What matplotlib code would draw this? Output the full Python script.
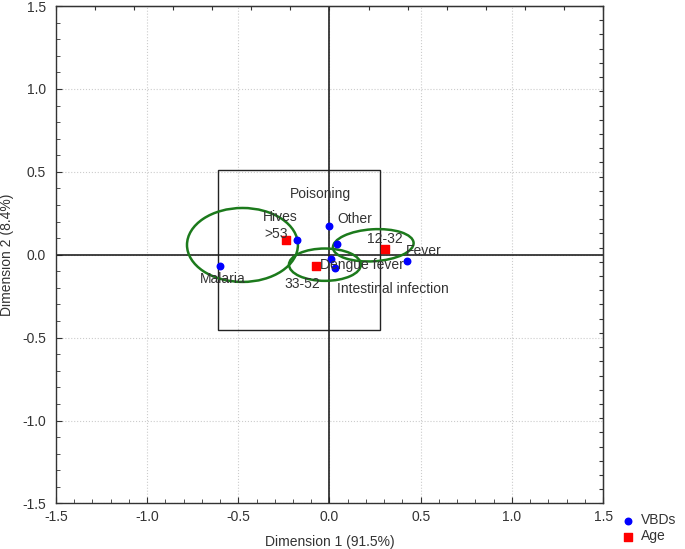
import numpy as np
import matplotlib
matplotlib.use("Agg")
import matplotlib.pyplot as plt
from matplotlib.patches import Ellipse, Rectangle
from matplotlib.ticker import MultipleLocator, FixedLocator

plt.rcParams['font.family'] = ['Liberation Sans', 'DejaVu Sans']

# VBDs (blue points)
vbd_names = ["Malaria", "Hives", "Poisoning", "Other", "Dengue fever",
             "Intestinal infection", "Fever"]
vbd_x = [-0.601, -0.180, -0.005, 0.042, 0.009, 0.029, 0.423]
vbd_y = [-0.065, 0.089, 0.172, 0.067, -0.025, -0.083, -0.035]

# Age groups (red squares)
age_names = [">53", "33-52", "12-32"]
age_x = [-0.236, -0.075, 0.305]
age_y = [0.086, -0.069, 0.035]

# green ellipses: center x, center y, width, height, angle
ell_cx = [-0.477, -0.025, 0.240]
ell_cy = [0.059, -0.060, 0.057]
ell_w = [0.608, 0.394, 0.443]
ell_h = [0.446, 0.195, 0.193]
ell_ang = [0, 0, 4]

# label offsets in points
vbd_off = [(2, -9.5), (-12, 16.5), (-5.5, 23), (12.5, 18), (22.5, -4.5),
           (42, -15), (12.5, 7)]
age_off = [(-7.5, 4.5), (-9.5, -12.5), (0, 7.5)]

fig = plt.figure(figsize=(6.85, 5.49), dpi=100)
ax = fig.add_axes([0.0815, 0.083, 0.799, 0.906])

ax.set_xlim(-1.5, 1.5)
ax.set_ylim(-1.5, 1.5)

ax.grid(True, which='major', color='#cccccc', linestyle=':', linewidth=0.8)
ax.xaxis.set_major_locator(MultipleLocator(0.5))
ax.yaxis.set_major_locator(MultipleLocator(0.5))
ax.xaxis.set_minor_locator(MultipleLocator(0.1))
ax.yaxis.set_minor_locator(MultipleLocator(0.1))
ax.xaxis.set_major_formatter(matplotlib.ticker.FormatStrFormatter('%.1f'))
ax.yaxis.set_major_formatter(matplotlib.ticker.FormatStrFormatter('%.1f'))
ax.tick_params(which='both', direction='in', colors='#333333', labelsize=10)
ax.tick_params(which='major', length=4)
ax.tick_params(which='minor', length=3)
ax.tick_params(axis='x', pad=5)
ax.tick_params(axis='y', pad=7)

for s in ax.spines.values():
    s.set_color('#333333')
    s.set_linewidth(1.0)

# top/right ticks
top = ax.secondary_xaxis('top')
top.xaxis.set_major_locator(FixedLocator(np.linspace(-1.5, 1.5, 15)))
top.tick_params(direction='in', length=3, labeltop=False, color='#333333')
right = ax.secondary_yaxis('right')
right.yaxis.set_major_locator(FixedLocator(np.linspace(-1.5, 1.5, 36)))
right.tick_params(direction='in', length=3, labelright=False, color='#333333')

ax.axvline(0, color='#222222', linewidth=1.2, zorder=2)
ax.axhline(0, color='#222222', linewidth=1.2, zorder=2)

ax.add_patch(Rectangle((-0.610, -0.453), 0.888, 0.962, fill=False,
                       edgecolor='#222222', linewidth=1.0, zorder=2))

for cx, cy, w, h, a in zip(ell_cx, ell_cy, ell_w, ell_h, ell_ang):
    ax.add_patch(Ellipse((cx, cy), w, h, angle=a, fill=False,
                         edgecolor='#1c7a1c', linewidth=1.8, zorder=3))

ax.scatter(vbd_x, vbd_y, marker='o', s=22, color='#0000ff', zorder=4, label='VBDs')
ax.scatter(age_x, age_y, marker='s', s=30, color='#ff0000', zorder=4, label='Age')

for n, x, y, o in zip(vbd_names, vbd_x, vbd_y, vbd_off):
    ax.annotate(n, (x, y), xytext=o, textcoords='offset points',
                ha='center', va='center', fontsize=10, color='#333333', zorder=5)
for n, x, y, o in zip(age_names, age_x, age_y, age_off):
    ax.annotate(n, (x, y), xytext=o, textcoords='offset points',
                ha='center', va='center', fontsize=10, color='#333333', zorder=5)

ax.set_xlabel("Dimension 1 (91.5%)", fontsize=10, color='#333333', labelpad=8)
ax.set_ylabel("Dimension 2 (8.4%)", fontsize=10, color='#333333')
ax.yaxis.set_label_coords(-0.077, 0.5)

fig.legend(loc='upper left', bbox_to_anchor=(0.893, 0.08), frameon=False,
           fontsize=10, handletextpad=0.3, labelspacing=0.15,
           handlelength=1.2, borderpad=0.1, labelcolor='#333333')

fig.savefig("out.png", dpi=100)
